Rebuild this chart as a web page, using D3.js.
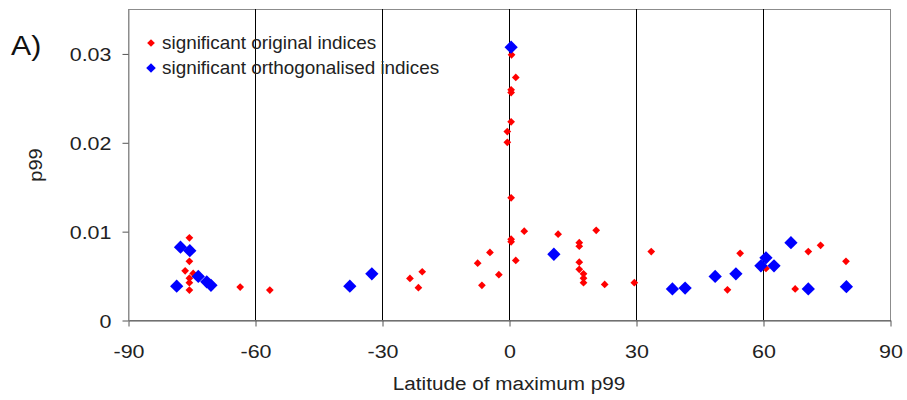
<!DOCTYPE html>
<html>
<head>
<meta charset="utf-8">
<script src="https://cdn.jsdelivr.net/npm/d3@7"></script>
<style>
  html, body { margin: 0; padding: 0; background: #fff; }
  svg { display: block; font-family: "Liberation Sans", Arial, sans-serif; }
</style>
</head>
<body>
<svg id="chart" width="907" height="400"></svg>
<script>
// Significant original indices: latitude of maximum p99 and p99 value
const origLat = [-75.5, -75.5, -76.5, -74.6, -75.5, -75.5, -75.5, -63.5, -56.5, -23.4, -20.5, -21.4,
  0.6, 1.6, 0.5, 0.5, 0.5, -0.4, -0.4, 0.5, 3.6, 11.6, 0.5, 0.5, -4.5, -7.4, 1.6, -2.4, -6.4,
  20.6, 16.6, 16.6, 16.6, 16.6, 17.6, 17.6, 17.6, 22.6, 29.6, 33.6, 54.6, 51.6, 60.7, 70.7, 73.6, 67.6, 79.6];
const origVal = [0.00925, 0.0066, 0.00554, 0.00524, 0.0047, 0.0042, 0.00337, 0.0037, 0.00337, 0.00468, 0.00543, 0.00363,
  0.02985, 0.0273, 0.0259, 0.0256, 0.0223, 0.0212, 0.0200, 0.01375, 0.0100, 0.00966, 0.0091, 0.0088, 0.0076, 0.0064, 0.0067, 0.0051, 0.0039,
  0.0101, 0.0087, 0.0083, 0.0065, 0.0057, 0.0052, 0.0047, 0.0042, 0.0040, 0.0042, 0.0077, 0.0075, 0.0034, 0.0058, 0.0077, 0.0084, 0.0035, 0.0066];

// Significant orthogonalised indices
const orthLat = [-77.6, -75.4, -73.4, -71.4, -70.4, -78.5, -37.6, -32.4, 0.5, 10.6,
  38.6, 41.6, 48.7, 53.6, 59.5, 60.7, 62.6, 66.6, 70.7, 79.7];
const orthVal = [0.0082, 0.0078, 0.0049, 0.0043, 0.0039, 0.0038, 0.0038, 0.0052, 0.0307, 0.0074,
  0.0035, 0.0036, 0.0049, 0.0052, 0.0061, 0.0070, 0.0061, 0.0087, 0.0035, 0.00375];

const xTicks = [-90, -60, -30, 0, 30, 60, 90];
const yTicks = [0, 0.01, 0.02, 0.03];
const legendLabels = ["significant original indices", "significant orthogonalised indices"];

const svg = d3.select("#chart");
const m = { left: 128, right: 890, top: 9, bottom: 320 };
const TEXT = "#222";
const SX = 1.13; // horizontal widening of the lettering

const x = d3.scaleLinear().domain([-90, 90]).range([m.left, m.right]);
const y = d3.scaleLinear().domain([0, 0.035]).range([m.bottom, m.top]);

// text placed at (tx, ty) and widened horizontally about that point
function label(parent, tx, ty, str, size, anchor, sx = SX, rot = 0) {
  return parent.append("text")
    .attr("transform", `translate(${tx},${ty}) rotate(${rot}) scale(${sx},1)`)
    .attr("text-anchor", anchor).attr("font-size", size).attr("fill", TEXT)
    .text(str);
}

// plot frame
svg.append("rect")
  .attr("x", m.left + 0.5).attr("y", m.top + 0.5)
  .attr("width", m.right - m.left).attr("height", m.bottom - m.top)
  .attr("fill", "none").attr("stroke", "#8c8c8c").attr("stroke-width", 1);

// vertical reference lines at interior ticks
svg.append("g").selectAll("line")
  .data(xTicks.filter(t => t > -90 && t < 90))
  .join("line")
  .attr("x1", d => Math.round(x(d)) + 0.5).attr("x2", d => Math.round(x(d)) + 0.5)
  .attr("y1", m.top).attr("y2", m.bottom)
  .attr("stroke", "#000").attr("stroke-width", 1);

// axes
const xAxis = svg.append("g")
  .attr("transform", `translate(0.5,${m.bottom + 0.5})`)
  .call(d3.axisBottom(x).tickValues(xTicks).tickSize(6).tickSizeOuter(0).tickFormat(d => String(d)));
xAxis.select(".domain").attr("stroke", "#555");
xAxis.selectAll(".tick line").attr("stroke", "#555");
xAxis.selectAll("text")
  .attr("font-size", 19).attr("fill", TEXT).attr("y", 37.5).attr("dy", 0)
  .attr("transform", `scale(${SX},1)`)
  .attr("font-family", "Liberation Sans, Arial, sans-serif");

const yAxis = svg.append("g")
  .attr("transform", `translate(${m.left + 0.5},0.5)`)
  .call(d3.axisLeft(y).tickValues(yTicks).tickSize(6).tickSizeOuter(0)
    .tickFormat(d => d === 0 ? "0" : d3.format(".2f")(d)));
yAxis.select(".domain").attr("stroke", "#8c8c8c");
yAxis.selectAll(".tick line").attr("stroke", "#555");
yAxis.selectAll("text")
  .attr("font-size", 19).attr("fill", TEXT).attr("x", -17 / SX).attr("dy", "0.36em")
  .attr("transform", `scale(${SX},1)`)
  .attr("font-family", "Liberation Sans, Arial, sans-serif");

// axis titles and panel label
label(svg, (m.left + m.right) / 2, 390, "Latitude of maximum p99", 19, "middle", 1.09);
label(svg, 42, (m.top + m.bottom) / 2 + 0.5, "p99", 19, "middle", 1.05, -90);
label(svg, 11, 55, "A)", 27, "start", 1.12).attr("fill", "#111");

// diamond marker: square rotated 45 degrees
const diamond = (area) => d3.symbol().type(d3.symbolSquare).size(area);
const smallArea = 30, bigArea = 88;

const orig = origLat.map((v, i) => ({ lat: v, val: origVal[i] }));
const orth = orthLat.map((v, i) => ({ lat: v, val: orthVal[i] }));

svg.append("g").selectAll("path")
  .data(orig).join("path")
  .attr("d", diamond(smallArea))
  .attr("transform", d => `translate(${x(d.lat)},${y(d.val)}) rotate(45)`)
  .attr("fill", "#ff0000");

svg.append("g").selectAll("path")
  .data(orth).join("path")
  .attr("d", diamond(bigArea))
  .attr("transform", d => `translate(${x(d.lat)},${y(d.val)}) rotate(45)`)
  .attr("fill", "#0000ff");

// legend
const legend = svg.append("g");
const legendColors = ["#ff0000", "#0000ff"];
const legendAreas = [smallArea, 46];
legendLabels.forEach((lab, i) => {
  const ly = 43 + i * 25;
  legend.append("path")
    .attr("d", diamond(legendAreas[i]))
    .attr("transform", `translate(151,${ly}) rotate(45)`)
    .attr("fill", legendColors[i]);
  label(legend, 162, ly + 6, lab, 17.5, "start", 1.08);
});
</script>
</body>
</html>
